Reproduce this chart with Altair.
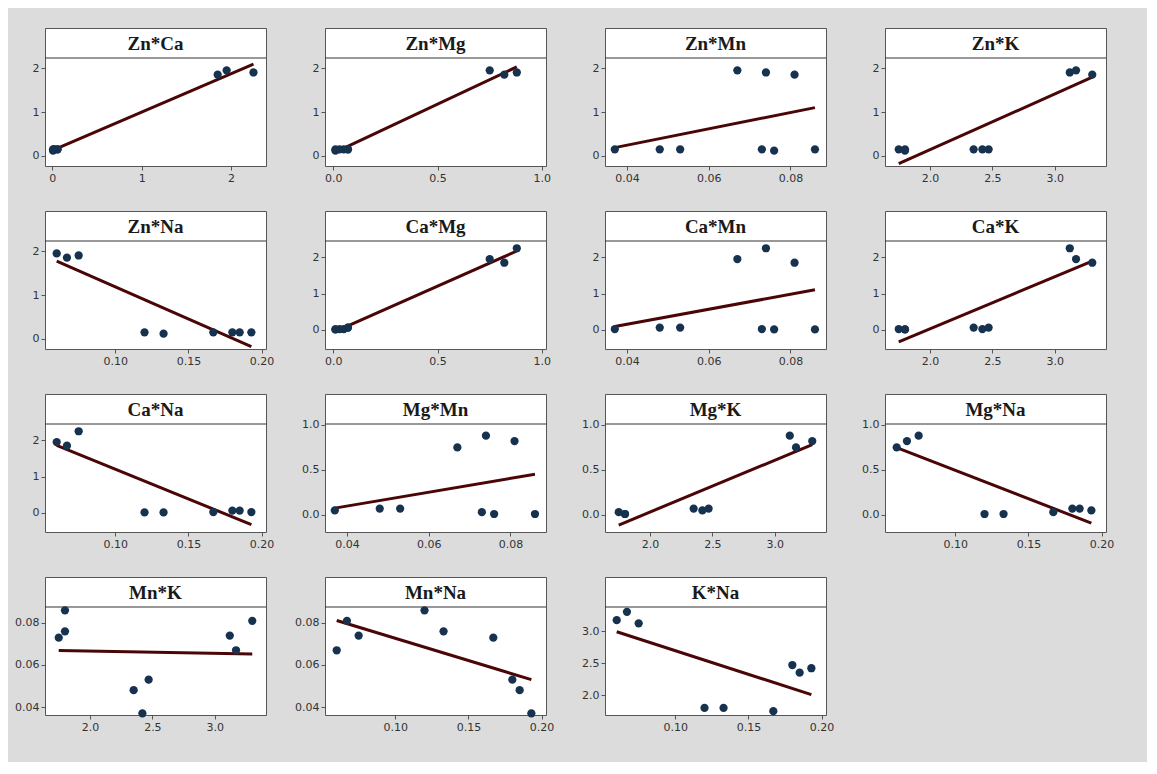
import altair as alt
import pandas as pd

# nine samples
Zn = [0.15, 0.15, 0.15, 1.95, 0.15, 1.90, 0.12, 1.85, 0.15]
Ca = [0.02, 0.06, 0.06, 1.95, 0.02, 2.25, 0.01, 1.85, 0.01]
Mg = [0.05, 0.07, 0.07, 0.75, 0.03, 0.88, 0.01, 0.82, 0.01]
Mn = [0.037, 0.048, 0.053, 0.067, 0.073, 0.074, 0.076, 0.081, 0.086]
K = [2.42, 2.35, 2.47, 3.17, 1.75, 3.12, 1.80, 3.30, 1.80]
Na = [0.193, 0.185, 0.180, 0.060, 0.167, 0.075, 0.133, 0.067, 0.120]

panels_list = [
    ("Zn", "Ca"), ("Zn", "Mg"), ("Zn", "Mn"), ("Zn", "K"),
    ("Zn", "Na"), ("Ca", "Mg"), ("Ca", "Mn"), ("Ca", "K"),
    ("Ca", "Na"), ("Mg", "Mn"), ("Mg", "K"), ("Mg", "Na"),
    ("Mn", "K"), ("Mn", "Na"), ("K", "Na"),
]

x_domains = {"Ca": [-0.08, 2.39], "Mg": [-0.04, 1.02], "Mn": [0.0346, 0.0887],
             "K": [1.64, 3.41], "Na": [0.052, 0.203]}
y_domains = {"Zn": [-0.23, 2.23], "Ca": [-0.53, 2.45], "Mg": [-0.19, 1.01],
             "Mn": [0.0362, 0.0876], "K": [1.69, 3.375]}
ticks = {"Zn": [0, 1, 2], "Ca": [0, 1, 2], "Mg": [0.0, 0.5, 1.0],
         "Mn": [0.04, 0.06, 0.08], "K": [2.0, 2.5, 3.0], "Na": [0.10, 0.15, 0.20]}
fmts = {"Zn": "d", "Ca": "d", "Mg": ".1f", "Mn": ".2f", "K": ".1f", "Na": ".2f"}

df = pd.DataFrame({"Zn": Zn, "Ca": Ca, "Mg": Mg, "Mn": Mn, "K": K, "Na": Na})

W, H, HDR = 221, 138, 30
PT_COLOR = "#16324f"
LINE_COLOR = "#4a0606"


def panel(yv, xv):
    title = f"{yv}*{xv}"
    base = alt.Chart(df).encode(
        x=alt.X(f"{xv}:Q",
                scale=alt.Scale(domain=x_domains[xv], nice=False, zero=False),
                axis=alt.Axis(values=ticks[xv], format=fmts[xv], title=None)),
        y=alt.Y(f"{yv}:Q",
                scale=alt.Scale(domain=y_domains[yv], range=[H, HDR], nice=False, zero=False),
                axis=alt.Axis(values=ticks[yv], format=fmts[yv], title=None)),
    )
    pts = base.mark_point(filled=True, shape="circle", size=68, opacity=1, color=PT_COLOR)
    line = base.transform_regression(xv, yv).mark_line(color=LINE_COLOR, strokeWidth=3)
    hd = pd.DataFrame({"t": [title]})
    rule = alt.Chart(hd).mark_rule(color="#333", strokeWidth=1).encode(
        x=alt.value(0), x2=alt.value(W), y=alt.value(HDR))
    txt = alt.Chart(hd).mark_text(font="Liberation Serif", fontWeight="bold",
                                  fontSize=19, color="#1a1a1a", baseline="middle").encode(
        x=alt.value(W / 2), y=alt.value(HDR / 2 + 1), text="t:N")
    return alt.layer(line, pts, rule, txt).properties(width=W, height=H)


charts = [panel(y, x) for (y, x) in panels_list]

chart = alt.concat(*charts, columns=4, spacing={"row": 45, "column": 59},
                   bounds="flush").properties(
    background="#dcdcdc",
    padding={"left": 6, "top": 19, "right": 32, "bottom": 29},
).configure_view(
    stroke="#555", strokeWidth=1, fill="white"
).configure_axis(
    domain=False, grid=False, labelFont="DejaVu Sans", labelFontSize=11,
    labelColor="#333", tickColor="#555", tickSize=4, labelPadding=2,
)

chart.save("out.html", embed_options={"renderer": "svg", "actions": False})
